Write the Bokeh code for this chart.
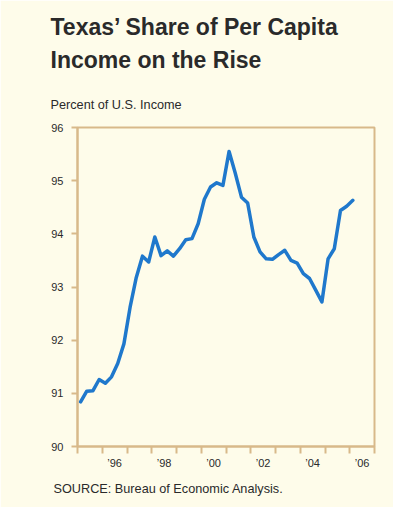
from bokeh.plotting import figure
from bokeh.models import FixedTicker, Range1d, Title
from bokeh.embed import file_html
from bokeh.resources import INLINE

# Quarterly data, 1995Q1 .. 2006Q1 (Texas per capita income as % of U.S.)
start_year = 1995
quarters = 45
share = [90.84, 91.04, 91.05, 91.26, 91.19, 91.31, 91.56, 91.93, 92.62, 93.18,
         93.58, 93.47, 93.94, 93.59, 93.68, 93.58, 93.72, 93.89, 93.91, 94.19,
         94.65, 94.88, 94.96, 94.91, 95.55, 95.14, 94.69, 94.58, 93.94, 93.66,
         93.53, 93.52, 93.61, 93.69, 93.50, 93.45, 93.25, 93.16, 92.94, 92.72,
         93.53, 93.72, 94.44, 94.52, 94.63]
t = [start_year + 0.125 + 0.25 * i for i in range(quarters)]

y_ticks = [90, 91, 92, 93, 94, 95, 96]
year_bounds = list(range(1995, 2008))
x_label_years = [1996, 1998, 2000, 2002, 2004, 2006]
x_labels = ["\u201996", "\u201998", "\u201900", "\u201902", "\u201904", "\u201906"]

title_lines = ["Texas\u2019 Share of Per Capita", "Income on the Rise"]
subtitle = "Percent of U.S. Income"
source = "SOURCE: Bureau of Economic Analysis."

BG = "#FEFCEA"
TAN = "#D8B98A"
BLUE = "#1F78CC"
TXT = "#2a2a2a"
FONT = "Liberation Sans"

p = figure(width=393, height=507, output_backend="svg", toolbar_location=None,
           x_range=Range1d(1995, 2007), y_range=Range1d(90, 96),
           min_border_left=77, min_border_right=19, min_border_top=0,
           min_border_bottom=61)
p.background_fill_color = BG
p.border_fill_color = BG
p.outline_line_color = TAN
p.outline_line_width = 2
p.grid.visible = False

p.line(t, share, line_color=BLUE, line_width=3.5, line_join="round", line_cap="round")

ya = p.yaxis[0]
ya.ticker = FixedTicker(ticks=y_ticks)
ya.axis_line_color = TAN
ya.axis_line_width = 2
ya.major_tick_line_color = TAN
ya.major_tick_line_width = 2
ya.major_tick_out = 6
ya.major_tick_in = 0
ya.minor_tick_line_color = None
ya.major_label_standoff = 8
ya.major_label_text_font = FONT
ya.major_label_text_font_size = "11px"
ya.major_label_text_color = TXT

xa = p.xaxis[0]
xa.ticker = FixedTicker(ticks=[y + 0.5 for y in x_label_years], minor_ticks=year_bounds)
xa.major_label_overrides = {y + 0.5: lab for y, lab in zip(x_label_years, x_labels)}
xa.axis_line_color = TAN
xa.axis_line_width = 2
xa.major_tick_line_color = None
xa.major_tick_out = 0
xa.major_tick_in = 0
xa.minor_tick_line_color = TAN
xa.minor_tick_line_width = 2
xa.minor_tick_out = 7
xa.minor_tick_in = 0
xa.major_label_standoff = 3
xa.major_label_text_font = FONT
xa.major_label_text_font_size = "11px"
xa.major_label_text_color = TXT

# small spacer between the frame and the subtitle
p.add_layout(Title(text=" ", align="left", text_font=FONT, text_font_size="2px",
                   text_color=BG, standoff=1), "above")
p.add_layout(Title(text=subtitle, align="left", offset=-27, text_font=FONT,
                   text_font_size="12.7px", text_font_style="normal",
                   text_color=TXT, standoff=21), "above")
p.add_layout(Title(text="\n".join(title_lines), align="left", offset=-27, text_font=FONT,
                   text_font_size="23px", text_font_style="bold",
                   text_line_height=1.28, text_color=TXT, standoff=24), "above")
p.add_layout(Title(text=source, align="left", offset=-24, text_font=FONT,
                   text_font_size="12.7px", text_font_style="normal",
                   text_color=TXT, standoff=17), "below")

open("out.html", "w").write(file_html(p, INLINE))
